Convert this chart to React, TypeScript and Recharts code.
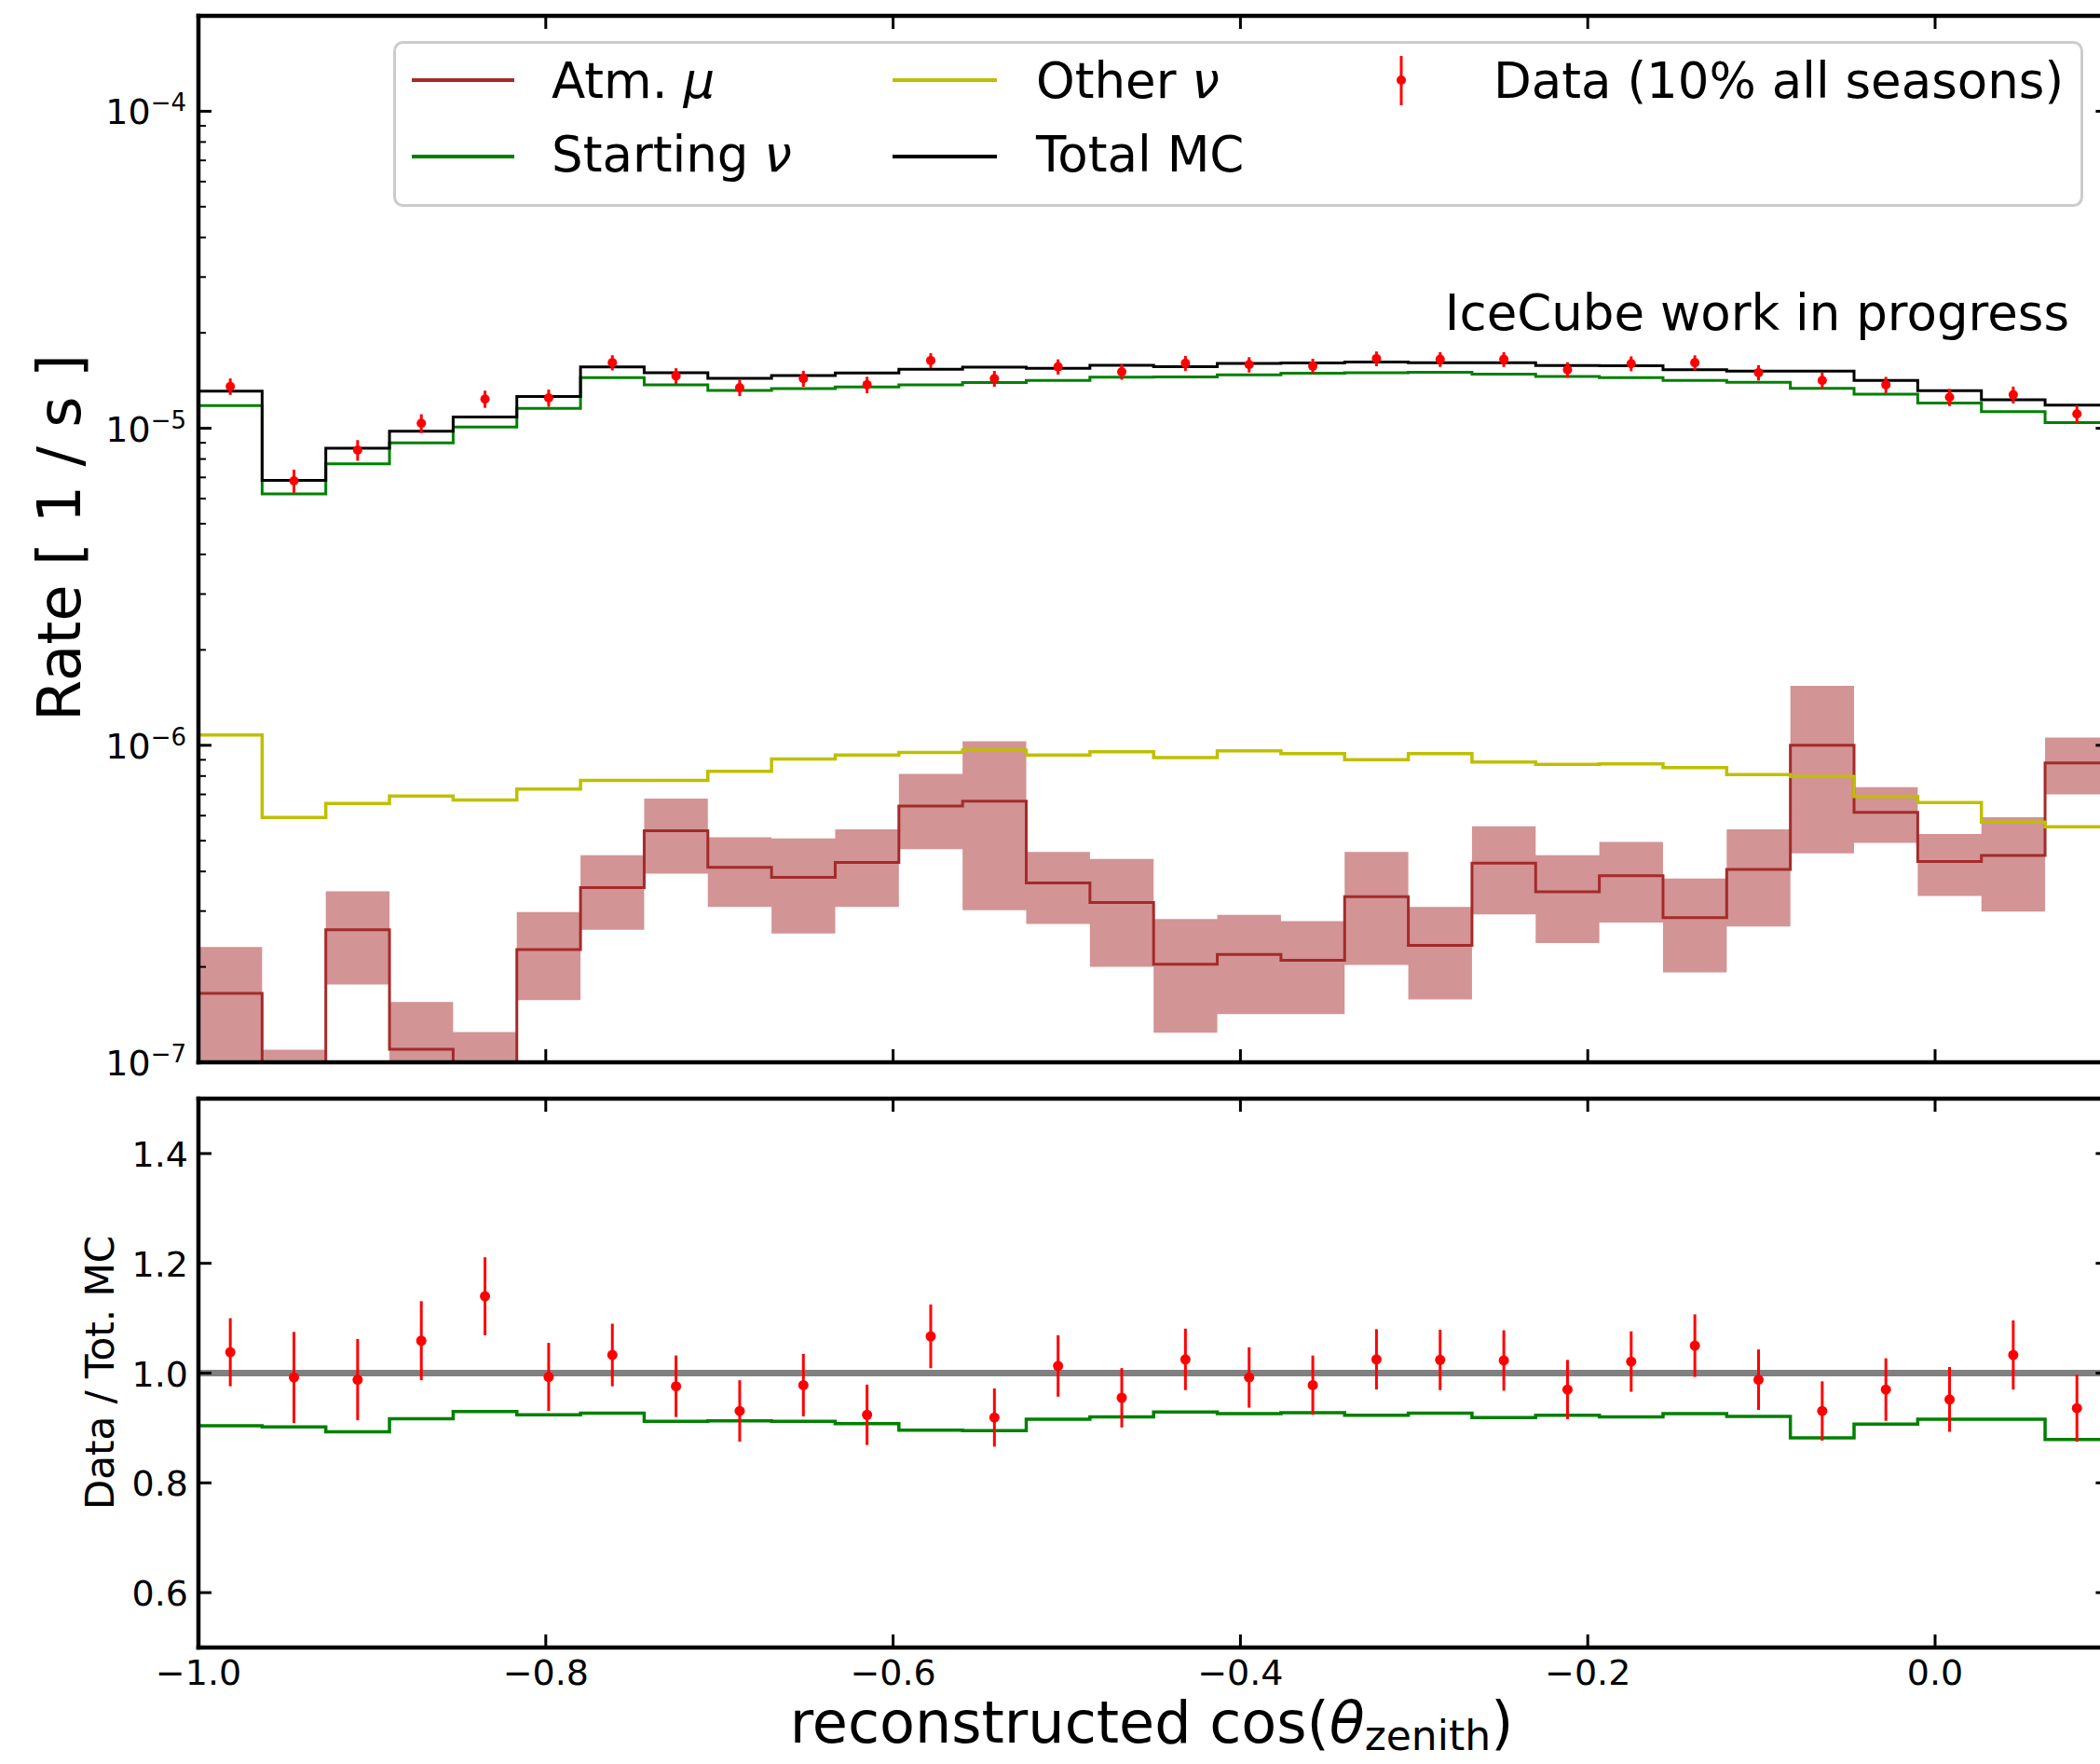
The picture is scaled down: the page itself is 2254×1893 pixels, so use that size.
import {
  ComposedChart,
  Line,
  Area,
  Scatter,
  ErrorBar,
  XAxis,
  YAxis,
  ReferenceLine,
  Legend,
} from 'recharts';

const FONT = '"DejaVu Sans", Verdana, sans-serif';

// 30 equal bins in reconstructed cos(zenith)
const BIN_LO = -1.0;
const BIN_HI = 0.1;
const N_BINS = 30;

// top panel: rates per bin [1/s]
const totalMc = [
  1.31e-5, 6.85e-6, 8.65e-6, 9.79e-6, 1.086e-5, 1.259e-5, 1.561e-5, 1.498e-5, 1.437e-5, 1.468e-5,
  1.494e-5, 1.535e-5, 1.56e-5, 1.545e-5, 1.581e-5, 1.563e-5, 1.603e-5, 1.607e-5, 1.618e-5, 1.61e-5,
  1.61e-5, 1.577e-5, 1.575e-5, 1.53e-5, 1.514e-5, 1.514e-5, 1.416e-5, 1.313e-5, 1.23e-5, 1.184e-5,
];
const startingNu = [
  1.18e-5, 6.21e-6, 7.72e-6, 8.99e-6, 1.01e-5, 1.156e-5, 1.444e-5, 1.372e-5, 1.316e-5, 1.335e-5,
  1.35e-5, 1.372e-5, 1.394e-5, 1.416e-5, 1.449e-5, 1.452e-5, 1.474e-5, 1.491e-5, 1.497e-5, 1.502e-5,
  1.483e-5, 1.456e-5, 1.444e-5, 1.416e-5, 1.397e-5, 1.337e-5, 1.282e-5, 1.202e-5, 1.129e-5, 1.042e-5,
];
const otherNu = [
  1.077e-6, 5.92e-7, 6.55e-7, 6.92e-7, 6.72e-7, 7.28e-7, 7.75e-7, 7.75e-7, 8.27e-7, 9.05e-7,
  9.31e-7, 9.49e-7, 9.66e-7, 9.31e-7, 9.54e-7, 9.15e-7, 9.61e-7, 9.41e-7, 9.0e-7, 9.41e-7,
  8.86e-7, 8.71e-7, 8.74e-7, 8.51e-7, 8.08e-7, 7.98e-7, 6.9e-7, 6.6e-7, 5.72e-7, 5.53e-7,
];
const atmMu = [
  1.65e-7, 7e-8, 2.62e-7, 1.1e-7, 8e-8, 2.27e-7, 3.56e-7, 5.38e-7, 4.12e-7, 3.83e-7,
  4.27e-7, 6.43e-7, 6.67e-7, 3.68e-7, 3.19e-7, 2.04e-7, 2.19e-7, 2.1e-7, 3.33e-7, 2.34e-7,
  4.25e-7, 3.45e-7, 3.88e-7, 2.86e-7, 4.06e-7, 1.0e-6, 6.15e-7, 4.3e-7, 4.49e-7, 8.8e-7,
];
const atmMuLo = [
  5e-8, 5e-8, 1.76e-7, 5e-8, 5e-8, 1.57e-7, 2.62e-7, 3.94e-7, 3.09e-7, 2.55e-7,
  3.09e-7, 4.7e-7, 3.02e-7, 2.73e-7, 2.0e-7, 1.24e-7, 1.42e-7, 1.42e-7, 2.03e-7, 1.58e-7,
  2.93e-7, 2.38e-7, 2.76e-7, 1.92e-7, 2.68e-7, 4.56e-7, 4.92e-7, 3.35e-7, 2.99e-7, 7.0e-7,
];
const atmMuHi = [
  2.31e-7, 1.095e-7, 3.46e-7, 1.55e-7, 1.246e-7, 2.98e-7, 4.5e-7, 6.79e-7, 5.13e-7, 5.08e-7,
  5.43e-7, 8.12e-7, 1.03e-6, 4.61e-7, 4.38e-7, 2.83e-7, 2.92e-7, 2.79e-7, 4.61e-7, 3.09e-7,
  5.55e-7, 4.5e-7, 4.96e-7, 3.8e-7, 5.43e-7, 1.54e-6, 7.38e-7, 5.25e-7, 5.93e-7, 1.058e-6,
];
const dataRate = [
  1.355e-5, 6.83e-6, 8.54e-6, 1.037e-5, 1.237e-5, 1.247e-5, 1.611e-5, 1.463e-5, 1.344e-5, 1.435e-5,
  1.372e-5, 1.636e-5, 1.435e-5, 1.563e-5, 1.508e-5, 1.604e-5, 1.588e-5, 1.571e-5, 1.658e-5, 1.65e-5,
  1.65e-5, 1.53e-5, 1.6e-5, 1.611e-5, 1.498e-5, 1.416e-5, 1.372e-5, 1.253e-5, 1.276e-5, 1.109e-5,
];

// bottom panel: data / total MC and starting nu / total MC
const dataRatio = [
  1.038, 0.992, 0.988, 1.059, 1.14, 0.993, 1.033, 0.976, 0.931, 0.978,
  0.924, 1.067, 0.919, 1.013, 0.955, 1.025, 0.992, 0.978, 1.025, 1.024,
  1.023, 0.97, 1.021, 1.05, 0.988, 0.931, 0.97, 0.952, 1.033, 0.936,
];
const ratioErr = [
  0.062, 0.083, 0.074, 0.072, 0.071, 0.062, 0.057, 0.056, 0.056, 0.057,
  0.055, 0.058, 0.053, 0.056, 0.054, 0.056, 0.055, 0.054, 0.055, 0.055,
  0.055, 0.054, 0.055, 0.057, 0.055, 0.054, 0.057, 0.059, 0.063, 0.061,
];
const startingRatio = [
  0.904, 0.902, 0.893, 0.917, 0.93, 0.924, 0.927, 0.912, 0.913, 0.912,
  0.908, 0.896, 0.895, 0.916, 0.92, 0.929, 0.926, 0.928, 0.923, 0.927,
  0.919, 0.923, 0.92, 0.926, 0.921, 0.882, 0.907, 0.916, 0.916, 0.879,
];

const xTicks = [-1.0, -0.8, -0.6, -0.4, -0.2, 0.0];
const rateDecades = [-7, -6, -5, -4];
const rateDomain: [number, number] = [1e-7, 2e-4];
const ratioTicks = [0.6, 0.8, 1.0, 1.2, 1.4];
const ratioDomain: [number, number] = [0.5, 1.5];

const C_MU = '#a52a2a';
const C_STARTING = '#008000';
const C_OTHER = '#bfbf00';
const C_TOTAL = '#000000';
const C_DATA = '#ff0000';

const binWidth = (BIN_HI - BIN_LO) / N_BINS;
const binEdges = Array.from({ length: N_BINS + 1 }, (_, i) => BIN_LO + i * binWidth);
const binCenters = binEdges.slice(0, -1).map((e) => e + binWidth / 2);

// one row per bin edge; the last bin is repeated on the right edge so the steps close
const pick = (arr: number[], i: number) => arr[Math.min(i, N_BINS - 1)];
const stepRows = binEdges.map((x, i) => ({
  x,
  total: pick(totalMc, i),
  starting: pick(startingNu, i),
  other: pick(otherNu, i),
  mu: pick(atmMu, i),
  muBand: [pick(atmMuLo, i), pick(atmMuHi, i)],
  startingRatio: pick(startingRatio, i),
}));

const dataPoints = binCenters.map((x, i) => ({
  x,
  y: dataRate[i],
  err: (dataRate[i] * ratioErr[i]) / dataRatio[i],
}));
const ratioPoints = binCenters.map((x, i) => ({ x, y: dataRatio[i], err: ratioErr[i] }));

const rateTicks: number[] = [];
rateDecades.forEach((d) => {
  for (let m = 1; m <= 9; m++) {
    const v = m * Math.pow(10, d);
    if (v <= rateDomain[1] * 1.0001) rateTicks.push(v);
  }
});
rateTicks.push(2e-4);

const CHART_W = 2300;
const AXIS_L = 213;
const AXIS_R = 10;
const MARGIN_R = CHART_W - AXIS_L - AXIS_R - 2050.4;
const spine = { stroke: '#000', strokeWidth: 4.5, strokeLinecap: 'square' as const };
const TICK_FS = 38;

const fmt = (v: number) => v.toFixed(1).replace('-', '\u2212');

function isMajor(v: number) {
  const lg = Math.log10(v);
  return Math.abs(lg - Math.round(lg)) < 1e-6;
}

function RateTick({ x, y, payload, side }: any) {
  const v = payload.value;
  const major = isMajor(v);
  const dir = side === 'left' ? 1 : -1;
  const len = major ? 14 : 8;
  return (
    <g>
      <line x1={x} x2={x + dir * len} y1={y} y2={y} stroke="#000" strokeWidth={major ? 3 : 2} />
      {side === 'left' && major && (
        <text x={x - 13} y={y + 14} textAnchor="end" fontFamily={FONT} fontSize={TICK_FS} fill="#000">
          10
          <tspan fontSize={26} dy={-14}>
            {'\u2212' + Math.abs(Math.round(Math.log10(v)))}
          </tspan>
        </text>
      )}
    </g>
  );
}

function RatioTick({ x, y, payload, side }: any) {
  const dir = side === 'left' ? 1 : -1;
  return (
    <g>
      <line x1={x} x2={x + dir * 14} y1={y} y2={y} stroke="#000" strokeWidth={3} />
      {side === 'left' && (
        <text x={x - 11} y={y + 14} textAnchor="end" fontFamily={FONT} fontSize={TICK_FS} fill="#000">
          {fmt(payload.value)}
        </text>
      )}
    </g>
  );
}

function XTick({ x, y, payload, side, label }: any) {
  const dir = side === 'bottom' ? -1 : 1;
  return (
    <g>
      <line x1={x} x2={x} y1={y} y2={y + dir * 14} stroke="#000" strokeWidth={3} />
      {label && (
        <text x={x} y={y + 40} textAnchor="middle" fontFamily={FONT} fontSize={TICK_FS} fill="#000">
          {fmt(payload.value)}
        </text>
      )}
    </g>
  );
}

function LegendBox() {
  const r1 = 42;
  const r2 = 124;
  const b1 = 61;
  const b2 = 140;
  const txt = { fontFamily: FONT, fontSize: 53, fill: '#000' };
  return (
    <svg width={1814} height={178} style={{ display: 'block' }}>
      <rect x={1.5} y={1.5} width={1811} height={175} rx={9} fill="#fff" fillOpacity={0.8} stroke="#cccccc" strokeWidth={3} />
      <line x1={20} x2={130} y1={r1} y2={r1} stroke={C_MU} strokeWidth={4} />
      <text x={170} y={b1} {...txt}>
        Atm. <tspan fontStyle="italic">μ</tspan>
      </text>
      <line x1={20} x2={130} y1={r2} y2={r2} stroke={C_STARTING} strokeWidth={4} />
      <text x={170} y={b2} {...txt}>
        Starting <tspan fontStyle="italic">ν</tspan>
      </text>
      <line x1={536} x2={648} y1={r1} y2={r1} stroke={C_OTHER} strokeWidth={4} />
      <text x={690} y={b1} {...txt}>
        Other <tspan fontStyle="italic">ν</tspan>
      </text>
      <line x1={536} x2={648} y1={r2} y2={r2} stroke={C_TOTAL} strokeWidth={4} />
      <text x={690} y={b2} {...txt}>
        Total MC
      </text>
      <line x1={1082} x2={1082} y1={16} y2={69} stroke={C_DATA} strokeWidth={3} />
      <circle cx={1082} cy={r1} r={5} fill={C_DATA} />
      <text x={1181} y={b1} {...txt}>
        Data (10% all seasons)
      </text>
    </svg>
  );
}

function RatePanel() {
  return (
    <ComposedChart
      width={CHART_W}
      height={1180}
      data={stepRows}
      margin={{ top: 16, right: MARGIN_R, left: 0, bottom: 39 }}
    >
      <XAxis
        dataKey="x"
        type="number"
        domain={[BIN_LO, BIN_HI]}
        ticks={xTicks}
        allowDataOverflow
        interval={0}
        height={1}
        tickSize={0}
        tickMargin={0}
        axisLine={spine}
        tickLine={false}
        tick={(p: any) => <XTick {...p} side="bottom" />}
      />
      <XAxis
        xAxisId="top"
        orientation="top"
        dataKey="x"
        type="number"
        domain={[BIN_LO, BIN_HI]}
        ticks={xTicks}
        allowDataOverflow
        interval={0}
        height={1}
        tickSize={0}
        tickMargin={0}
        axisLine={spine}
        tickLine={false}
        tick={(p: any) => <XTick {...p} side="top" />}
      />
      <YAxis
        type="number"
        scale="log"
        domain={rateDomain}
        ticks={rateTicks}
        allowDataOverflow
        interval={0}
        width={AXIS_L}
        tickSize={0}
        tickMargin={0}
        axisLine={spine}
        tickLine={false}
        tick={(p: any) => <RateTick {...p} side="left" />}
      />
      <YAxis
        yAxisId="right"
        orientation="right"
        type="number"
        scale="log"
        domain={rateDomain}
        ticks={rateTicks}
        allowDataOverflow
        interval={0}
        width={AXIS_R}
        tickSize={0}
        tickMargin={0}
        axisLine={spine}
        tickLine={false}
        tick={(p: any) => <RateTick {...p} side="right" />}
      />
      <Area
        type="stepAfter"
        dataKey="muBand"
        stroke="none"
        fill={C_MU}
        fillOpacity={0.5}
        dot={false}
        activeDot={false}
        isAnimationActive={false}
      />
      <Line type="stepAfter" dataKey="mu" stroke={C_MU} strokeWidth={3} dot={false} activeDot={false} isAnimationActive={false} />
      <Line type="stepAfter" dataKey="other" stroke={C_OTHER} strokeWidth={3.5} dot={false} activeDot={false} isAnimationActive={false} />
      <Line type="stepAfter" dataKey="starting" stroke={C_STARTING} strokeWidth={3} dot={false} activeDot={false} isAnimationActive={false} />
      <Line type="stepAfter" dataKey="total" stroke={C_TOTAL} strokeWidth={3} dot={false} activeDot={false} isAnimationActive={false} />
      <Scatter
        data={dataPoints}
        dataKey="y"
        isAnimationActive={false}
        shape={(p: any) => <circle cx={p.cx} cy={p.cy} r={5} fill={C_DATA} />}
      >
        <ErrorBar dataKey="err" direction="y" width={0} stroke={C_DATA} strokeWidth={3} isAnimationActive={false} />
      </Scatter>
      <Legend
        layout="vertical"
        align="center"
        verticalAlign="middle"
        wrapperStyle={{ left: 422, top: 44, width: 1814, height: 178 }}
        content={() => <LegendBox />}
      />
    </ComposedChart>
  );
}

function RatioPanel() {
  return (
    <ComposedChart
      width={CHART_W}
      height={733}
      data={stepRows}
      margin={{ top: 18, right: MARGIN_R, left: 0, bottom: 0 }}
    >
      <XAxis
        dataKey="x"
        type="number"
        domain={[BIN_LO, BIN_HI]}
        ticks={xTicks}
        allowDataOverflow
        interval={0}
        height={125}
        tickSize={0}
        tickMargin={0}
        axisLine={spine}
        tickLine={false}
        tick={(p: any) => <XTick {...p} side="bottom" label />}
      />
      <XAxis
        xAxisId="top"
        orientation="top"
        dataKey="x"
        type="number"
        domain={[BIN_LO, BIN_HI]}
        ticks={xTicks}
        allowDataOverflow
        interval={0}
        height={1}
        tickSize={0}
        tickMargin={0}
        axisLine={spine}
        tickLine={false}
        tick={(p: any) => <XTick {...p} side="top" />}
      />
      <YAxis
        type="number"
        domain={ratioDomain}
        ticks={ratioTicks}
        allowDataOverflow
        interval={0}
        width={AXIS_L}
        tickSize={0}
        tickMargin={0}
        axisLine={spine}
        tickLine={false}
        tick={(p: any) => <RatioTick {...p} side="left" />}
      />
      <YAxis
        yAxisId="right"
        orientation="right"
        type="number"
        domain={ratioDomain}
        ticks={ratioTicks}
        allowDataOverflow
        interval={0}
        width={AXIS_R}
        tickSize={0}
        tickMargin={0}
        axisLine={spine}
        tickLine={false}
        tick={(p: any) => <RatioTick {...p} side="right" />}
      />
      <ReferenceLine y={1} stroke="#808080" strokeWidth={7} />
      <Line type="stepAfter" dataKey="startingRatio" stroke={C_STARTING} strokeWidth={3.5} dot={false} activeDot={false} isAnimationActive={false} />
      <Scatter
        data={ratioPoints}
        dataKey="y"
        isAnimationActive={false}
        shape={(p: any) => <circle cx={p.cx} cy={p.cy} r={5.5} fill={C_DATA} />}
      >
        <ErrorBar dataKey="err" direction="y" width={0} stroke={C_DATA} strokeWidth={3} isAnimationActive={false} />
      </Scatter>
    </ComposedChart>
  );
}

export default function App() {
  return (
    <div
      style={{
        position: 'fixed',
        left: 0,
        top: 0,
        width: 2254,
        height: 1893,
        overflow: 'hidden',
        background: '#fff',
      }}
    >
      <div style={{ position: 'absolute', left: 0, top: 0 }}>
        <RatePanel />
      </div>
      <div style={{ position: 'absolute', left: 0, top: 1160 }}>
        <RatioPanel />
      </div>
      <svg
        width={2254}
        height={1893}
        style={{ position: 'absolute', left: 0, top: 0, pointerEvents: 'none' }}
      >
        <text
          x={86}
          y={577}
          transform="rotate(-90 86 577)"
          textAnchor="middle"
          fontFamily={FONT}
          fontSize={64}
          fill="#000"
        >
          Rate [ 1 / s ]
        </text>
        <text
          x={122}
          y={1473}
          transform="rotate(-90 122 1473)"
          textAnchor="middle"
          fontFamily={FONT}
          fontSize={42}
          fill="#000"
        >
          Data / Tot. MC
        </text>
        <text x={1236} y={1870} textAnchor="middle" fontFamily={FONT} fontSize={62} fill="#000">
          reconstructed cos(<tspan fontStyle="italic">θ</tspan>
          <tspan fontSize={44} dy={8}>zenith</tspan>
          <tspan dy={-8}>)</tspan>
        </text>
        <text x={2221} y={354} textAnchor="end" fontFamily={FONT} fontSize={53} fill="#000">
          IceCube work in progress
        </text>
      </svg>
    </div>
  );
}
